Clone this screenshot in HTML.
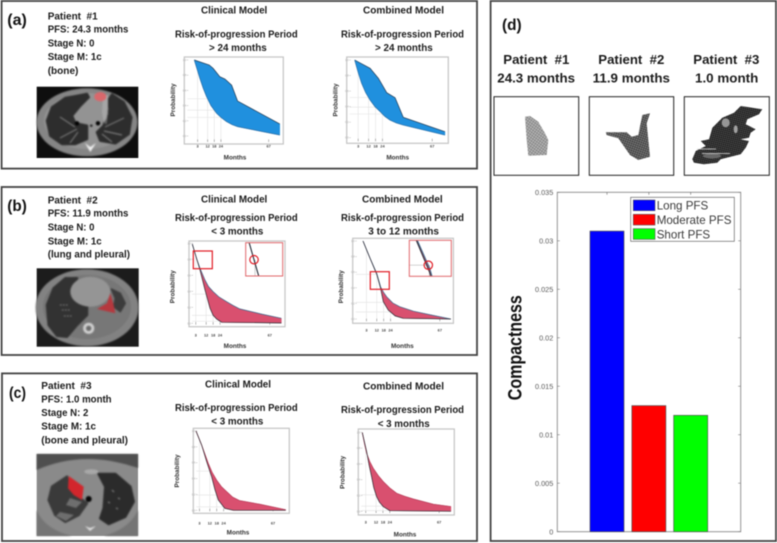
<!DOCTYPE html>
<html lang="en">
<head>
<meta charset="utf-8">
<title>Risk-of-progression and compactness figure</title>
<style>
html,body{margin:0;padding:0;background:#fff;width:777px;height:543px;overflow:hidden}
#figure{display:block;filter:blur(.4px)}
text{font-family:"Liberation Sans",sans-serif}
.t{font-weight:bold;font-size:10.4px;fill:#1c1c1c}
.h{font-weight:bold;font-size:13px;fill:#1c1c1c}
.p{font-weight:bold;font-size:16px;fill:#141414}
.ann{font-weight:bold;font-size:9.4px;fill:#1c1c1c}
.frame{fill:none;stroke:#444;stroke-width:1.8}
.ct{filter:blur(.9px)}
</style>
</head>
<body>
<svg id="figure" xmlns="http://www.w3.org/2000/svg" width="777" height="543" viewBox="0 0 777 543">
<defs>
<pattern id="mesh" width="2.4" height="2.4" patternUnits="userSpaceOnUse" patternTransform="rotate(35)">
<rect width="2.4" height="2.4" fill="#b4b4b4"/><path d="M0 0H2.4M0 0V2.4" stroke="#666" stroke-width=".7"/>
</pattern>
<pattern id="meshDark" width="2.2" height="2.2" patternUnits="userSpaceOnUse" patternTransform="rotate(20)">
<rect width="2.2" height="2.2" fill="#777"/><path d="M0 0H2.2M0 0V2.2" stroke="#282828" stroke-width=".8"/>
</pattern>
<pattern id="meshBlack" width="2" height="2" patternUnits="userSpaceOnUse" patternTransform="rotate(15)">
<rect width="2" height="2" fill="#4c4c4c"/><path d="M0 0H2M0 0V2" stroke="#101010" stroke-width=".9"/>
</pattern>
</defs>
<rect width="777" height="543" fill="#fff"/>

<!-- frames -->
<rect class="frame" x="1.6" y="1" width="475.4" height="167.6"/>
<rect class="frame" x="1.6" y="187" width="475.4" height="168"/>
<rect class="frame" x="2" y="373.4" width="475" height="167.6"/>
<rect class="frame" x="490.6" y="1" width="285.4" height="540"/>

<!-- panel a text -->
<text class="p" x="7.3" y="25" textLength="19.5" lengthAdjust="spacingAndGlyphs">(a)</text>
<text class="t" x="47.7" y="19.3" textLength="50" lengthAdjust="spacingAndGlyphs" xml:space="preserve">Patient  #1</text>
<text class="t" x="47.7" y="32.7" textLength="80.7" lengthAdjust="spacingAndGlyphs">PFS: 24.3 months</text>
<text class="t" x="47.7" y="46.7" textLength="46.7" lengthAdjust="spacingAndGlyphs">Stage N: 0</text>
<text class="t" x="47.7" y="60" textLength="54" lengthAdjust="spacingAndGlyphs">Stage M: 1c</text>
<text class="t" x="47.7" y="74" textLength="30.7" lengthAdjust="spacingAndGlyphs">(bone)</text>
<text class="t" x="201" y="13.3" textLength="66.3" lengthAdjust="spacingAndGlyphs">Clinical Model</text>
<text class="t" x="363" y="13.3" textLength="81" lengthAdjust="spacingAndGlyphs">Combined Model</text>
<text class="t" x="175" y="37.3" textLength="122.7" lengthAdjust="spacingAndGlyphs">Risk-of-progression Period</text>
<text class="t" x="209" y="51" textLength="57.7" lengthAdjust="spacingAndGlyphs">&gt; 24 months</text>
<text class="t" x="341" y="37.3" textLength="123" lengthAdjust="spacingAndGlyphs">Risk-of-progression Period</text>
<text class="t" x="375" y="51" textLength="57.7" lengthAdjust="spacingAndGlyphs">&gt; 24 months</text>

<!-- panel b text -->
<text class="p" x="7.3" y="211" textLength="19.5" lengthAdjust="spacingAndGlyphs">(b)</text>
<text class="t" x="47.7" y="203.3" textLength="50" lengthAdjust="spacingAndGlyphs" xml:space="preserve">Patient  #2</text>
<text class="t" x="47.7" y="216.7" textLength="80.7" lengthAdjust="spacingAndGlyphs">PFS: 11.9 months</text>
<text class="t" x="47.7" y="230.7" textLength="46.7" lengthAdjust="spacingAndGlyphs">Stage N: 0</text>
<text class="t" x="47.7" y="244.3" textLength="54" lengthAdjust="spacingAndGlyphs">Stage M: 1c</text>
<text class="t" x="47.7" y="257.7" textLength="82.3" lengthAdjust="spacingAndGlyphs">(lung and pleural)</text>
<text class="t" x="201" y="202.3" textLength="66.3" lengthAdjust="spacingAndGlyphs">Clinical Model</text>
<text class="t" x="362" y="202.3" textLength="80.7" lengthAdjust="spacingAndGlyphs">Combined Model</text>
<text class="t" x="175" y="221" textLength="122.7" lengthAdjust="spacingAndGlyphs">Risk-of-progression Period</text>
<text class="t" x="211.3" y="234.3" textLength="52" lengthAdjust="spacingAndGlyphs">&lt; 3 months</text>
<text class="t" x="341" y="221" textLength="123" lengthAdjust="spacingAndGlyphs">Risk-of-progression Period</text>
<text class="t" x="368.3" y="234.3" textLength="70.7" lengthAdjust="spacingAndGlyphs">3 to 12 months</text>

<!-- panel c text -->
<text class="p" x="9" y="398" textLength="17" lengthAdjust="spacingAndGlyphs">(c)</text>
<text class="t" x="41.3" y="389" textLength="50.3" lengthAdjust="spacingAndGlyphs" xml:space="preserve">Patient  #3</text>
<text class="t" x="41.3" y="402.3" textLength="70.3" lengthAdjust="spacingAndGlyphs">PFS: 1.0 month</text>
<text class="t" x="41.3" y="416" textLength="47" lengthAdjust="spacingAndGlyphs">Stage N: 2</text>
<text class="t" x="41.3" y="429.7" textLength="54.7" lengthAdjust="spacingAndGlyphs">Stage M: 1c</text>
<text class="t" x="41.3" y="443.3" textLength="86.7" lengthAdjust="spacingAndGlyphs">(bone and pleural)</text>
<text class="t" x="205" y="387.7" textLength="66" lengthAdjust="spacingAndGlyphs">Clinical Model</text>
<text class="t" x="363" y="389.3" textLength="81" lengthAdjust="spacingAndGlyphs">Combined Model</text>
<text class="t" x="175" y="411" textLength="122.7" lengthAdjust="spacingAndGlyphs">Risk-of-progression Period</text>
<text class="t" x="211.3" y="424.3" textLength="52" lengthAdjust="spacingAndGlyphs">&lt; 3 months</text>
<text class="t" x="341" y="413" textLength="123" lengthAdjust="spacingAndGlyphs">Risk-of-progression Period</text>
<text class="t" x="377.7" y="427" textLength="52" lengthAdjust="spacingAndGlyphs">&lt; 3 months</text>

<!-- CT scan a -->
<rect x="36.7" y="86.7" width="101.6" height="71.3" fill="#0e0e0e"/>
<g class="ct">
<ellipse cx="87" cy="122.3" rx="50.5" ry="34" fill="#858585"/>
<ellipse cx="87" cy="121" rx="43" ry="28" fill="#939393"/>
<path d="M87 94L65.3 98L52 107.3L47 120.7L50.3 135.7L62 144L75.3 144L87 139L87 125.7L75.3 123.3L72 115.7L80.3 105.7L88.7 97.3Z" fill="#2d2d2d" stroke="#2d2d2d" stroke-linejoin="round" stroke-width="2.5"/>
<path d="M107 102.3L112 94.7L123.7 102.3L131.3 117.3L128.7 134L115.3 143.3L100.3 140.7L97 132.3L103.7 125.7L106 114Z" fill="#2d2d2d" stroke="#2d2d2d" stroke-linejoin="round" stroke-width="2.5"/>
<path d="M103 95H108V114L104 124L102 112Z" fill="#a6a6a6"/>
<path d="M75 127L60 117M77 129L60 138M78 132L70 143M105 127L124 118M104 131L122 135M102 134L112 142M106 124L108 108" stroke="#8c8c8c" stroke-width=".9" fill="none"/>
<circle cx="77" cy="123.3" r="2.2" fill="#000"/><circle cx="98" cy="123.3" r="2.2" fill="#000"/><circle cx="91.3" cy="125.7" r="1.2" fill="#111"/>
<path d="M85 143L90.3 152L96 143L90.3 147Z" fill="#f0f0f0"/>
<ellipse cx="100.3" cy="96.7" rx="6" ry="4.7" fill="#d9686c"/>
</g>

<!-- CT scan b -->
<rect x="36.7" y="268.3" width="102" height="78.4" fill="#1c1c1c"/>
<g class="ct">
<ellipse cx="87" cy="307.7" rx="51.5" ry="38.5" fill="#828282"/>
<ellipse cx="87" cy="307" rx="44" ry="32" fill="#777"/>
<path d="M65.3 278.3L77 278.3L72 286.7L75.3 301.7L87 306.7L87 315L77 325L67 336.7L57 335.7L48.7 325L47 305L53.7 288.3Z" fill="#323232" stroke="#323232" stroke-linejoin="round" stroke-width="2.5"/>
<ellipse cx="90.3" cy="291.7" rx="20" ry="15" fill="#959595"/>
<path d="M111.3 289L120.3 293.3L125.3 303.3L120.3 311.7L113.7 306.7L115.3 298.3Z" fill="#3c3c3c" stroke="#3c3c3c" stroke-linejoin="round" stroke-width="1.5"/>
<path d="M110.3 293.3L113.7 305L115.3 313.3L97 309L107 303.3Z" fill="#b5383e"/>
<circle cx="88.7" cy="328.3" r="5.6" fill="#d0d0d0"/><circle cx="88.7" cy="328.3" r="2.7" fill="#6c6c6c"/>
<path d="M60 305h8M62 310h9M64 316h8" stroke="#8a8a8a" stroke-width="1" stroke-dasharray="1.5 1.5"/>
</g>

<!-- CT scan c -->
<rect x="36.7" y="454" width="101.3" height="82" fill="#8a8a8a"/>
<g class="ct">
<path d="M36.7 454H138V468C120 462 104 459 88 459C70 459 52 463 36.7 470Z" fill="#4f4f4f"/>
<path d="M36.7 510C42 524 56 532 72 536H36.7ZM138 510C132 524 118 532 104 536H138Z" fill="#757575"/>
<path d="M67 476.7L68.7 490L87 503.3L78.7 515L65.3 521.7L55.3 515L48.7 500L52 486.7Z" fill="#3a3a3a" stroke="#3a3a3a" stroke-linejoin="round" stroke-width="2.5"/>
<path d="M98.7 474L115.3 474L130.3 486.7L133.7 501.7L125.3 516.7L108.7 524L100.3 518.3L103.7 508.3L105.3 486.7Z" fill="#2b2b2b" stroke="#2b2b2b" stroke-linejoin="round" stroke-width="2.5"/>
<path d="M60 512L74 515L66 521L56 516ZM70 498L82 502L76 508L66 505Z" fill="#6e6e6e"/>
<path d="M68.7 476L83.7 486.7L82 500L73.7 495L68 488.3Z" fill="#d2262c"/>
<circle cx="88.7" cy="499" r="3" fill="#050505"/>
<ellipse cx="91.3" cy="471.7" rx="7" ry="2.5" fill="#a8a8a8"/>
<path d="M85 526L90 531L96 526L90 528Z" fill="#e0e0e0"/>
<path d="M112 490l2 2M118 498l2 1M108 502l2 1M116 508l2 1" stroke="#888" stroke-width="1.1"/>
</g>

<!-- annotations b -->
<text class="ann" x="236.7" y="289" textLength="41" lengthAdjust="spacingAndGlyphs">2.9 months</text>
<text class="ann" x="401" y="289" textLength="45.3" lengthAdjust="spacingAndGlyphs">11.7 months</text>

<!-- panel d top -->
<text class="p" x="502" y="30" textLength="19.7" lengthAdjust="spacingAndGlyphs">(d)</text>
<text class="h" x="503.3" y="64" textLength="66" lengthAdjust="spacingAndGlyphs" xml:space="preserve">Patient  #1</text>
<text class="h" x="497.3" y="82.3" textLength="77.7" lengthAdjust="spacingAndGlyphs">24.3 months</text>
<text class="h" x="598.3" y="64" textLength="66" lengthAdjust="spacingAndGlyphs" xml:space="preserve">Patient  #2</text>
<text class="h" x="592.7" y="82.3" textLength="77.3" lengthAdjust="spacingAndGlyphs">11.9 months</text>
<text class="h" x="693.3" y="64" textLength="66" lengthAdjust="spacingAndGlyphs" xml:space="preserve">Patient  #3</text>
<text class="h" x="695" y="82.3" textLength="63.3" lengthAdjust="spacingAndGlyphs">1.0 month</text>
<rect x="494" y="96.7" width="84.7" height="78.6" fill="#fff" stroke="#222" stroke-width="1"/>
<rect x="589.3" y="96.7" width="84.4" height="78.6" fill="#fff" stroke="#222" stroke-width="1"/>
<rect x="684.3" y="96.7" width="85" height="78.6" fill="#fff" stroke="#222" stroke-width="1"/>
<path d="M525 116.7L530 116L538.3 121.7L545 133.3L548.3 140L546.7 155L528.3 155.7L526.7 140Z" fill="url(#mesh)"/>
<path d="M605.7 132.3L626.7 132.3L631.7 136.7L638.3 135L642.3 115L650 113.3L646.7 123.3L650 156.7L638.3 160L630 155L618.3 138.3L606.7 135Z" fill="url(#meshDark)"/>
<g>
<path d="M692.3 159.3L695.7 151L705.7 146L700.7 141L709 139.3L712.3 127.7L722.3 117.7L734 112.7L740.7 106L762.3 109.3L759 114.3L747.3 119.3L745.7 124.3L755.7 129.3L750.7 132.7L749 137.7L740.7 139.3L749 141L745.7 147.7L740.7 154.3L720.7 159.3L717.3 162.7L704 164.3L694 162.7Z" fill="url(#meshBlack)"/>
<ellipse cx="725.7" cy="122.7" rx="4" ry="4.5" fill="#a8a8a8" opacity=".85"/>
<ellipse cx="735.7" cy="129.3" rx="2" ry="4" fill="#b5b5b5" opacity=".85"/>
<ellipse cx="712" cy="156" rx="9" ry="2.5" fill="#777" opacity=".8"/>
<path d="M697 149H716M702 153.5H730" stroke="#ddd" stroke-width=".8" fill="none"/>
</g>

<!-- compactness label -->
<text transform="translate(521.5,347.7) rotate(-90)" text-anchor="middle" font-weight="bold" font-size="19" fill="#111" textLength="105" lengthAdjust="spacingAndGlyphs">Compactness</text>

<g id="charts"></g>
<g id="bars"></g>
</svg>
<script>
/* ---------- survival chart data (months and probability) ---------- */
const xTickMonths = [3, 12, 18, 24, 67];
const yTickProbs = [0, 0.2, 0.4, 0.6, 0.8, 1];
const yTickLabels = ['0.0', '0.2', '0.4', '0.6', '0.8', '1.0'];
const guideMonths = [12, 18, 24];

const a1UpperMonths = [0, 13.5, 17, 23, 27.6, 33.6, 39, 77];
const a1UpperProb = [1, 0.934, 0.89, 0.78, 0.75, 0.67, 0.46, 0.158];
const a1LowerMonths = [0, 2.5, 5, 8, 11, 15, 20, 24, 29, 34, 39, 77];
const a1LowerProb = [1, 0.88, 0.76, 0.63, 0.52, 0.40, 0.30, 0.245, 0.19, 0.15, 0.123, 0.013];

const a2UpperMonths = [0, 13.3, 20.5, 27.7, 34.9, 42, 78];
const a2UpperProb = [1, 0.893, 0.764, 0.579, 0.515, 0.262, 0.077];
const a2LowerMonths = [0, 3, 6, 9.5, 13.3, 17.5, 22, 26, 30.5, 36, 42, 78];
const a2LowerProb = [1, 0.84, 0.70, 0.58, 0.485, 0.40, 0.335, 0.275, 0.227, 0.19, 0.163, 0.034];

const b1UpperMonths = [0, 3.7, 6.6, 11, 14, 18, 23, 29.7, 35, 41, 60, 77];
const b1UpperProb = [0.99, 0.81, 0.69, 0.54, 0.46, 0.396, 0.33, 0.27, 0.225, 0.18, 0.115, 0.0625];
const b1LowerMonths = [0, 3.7, 6.6, 11, 15.3, 18, 21, 25.4, 77];
const b1LowerProb = [0.99, 0.81, 0.67, 0.417, 0.19, 0.10, 0.054, 0.0125, 0.004];

const b2UpperMonths = [0, 6.1, 12, 15.4, 18, 20.6, 26, 32, 44, 60, 76.5];
const b2UpperProb = [1, 0.78, 0.585, 0.41, 0.34, 0.286, 0.205, 0.158, 0.1, 0.05, 0];
const b2LowerMonths = [0, 6.1, 12, 15.4, 17.7, 22, 28, 35, 76.5];
const b2LowerProb = [1, 0.78, 0.573, 0.39, 0.222, 0.115, 0.04, 0.009, 0];

const c1UpperMonths = [0, 4.9, 10.7, 14, 18, 22, 26.7, 32, 38, 55.6, 78];
const c1UpperProb = [1, 0.824, 0.592, 0.48, 0.38, 0.30, 0.235, 0.165, 0.122, 0.076, 0.008];
const c1LowerMonths = [0, 4.9, 9.3, 13.6, 16.5, 19.4, 25, 32.5, 78];
const c1LowerProb = [1, 0.824, 0.613, 0.424, 0.26, 0.13, 0.025, 0, 0];

const c2UpperMonths = [0, 2, 3.8, 6.5, 9.6, 14, 18.3, 24, 30, 37, 44.5, 62, 77.3];
const c2UpperProb = [0.996, 0.85, 0.734, 0.63, 0.544, 0.45, 0.376, 0.295, 0.228, 0.19, 0.156, 0.089, 0.06];
const c2LowerMonths = [0, 2, 3.8, 6, 8.1, 10, 12.5, 15, 18.3, 24, 77.3];
const c2LowerProb = [0.996, 0.87, 0.755, 0.58, 0.44, 0.30, 0.186, 0.115, 0.059, 0.008, 0];

/* ---------- bar chart data ---------- */
const barCategories = ['Long PFS', 'Moderate PFS', 'Short PFS'];
const barValues = [0.031, 0.013, 0.012];
const barTickValues = [0, 0.005, 0.01, 0.015, 0.02, 0.025, 0.03, 0.035];
const barTickLabels = ['0', '0.005', '0.01', '0.015', '0.02', '0.025', '0.03', '0.035'];
const barColors = ['#0000ff', '#ff0000', '#00ff00'];

const NS = 'http://www.w3.org/2000/svg';
function mk(parent, tag, attrs, txt) {
  const el = document.createElementNS(NS, tag);
  for (const k in attrs) el.setAttribute(k, attrs[k]);
  if (txt !== undefined) el.textContent = txt;
  parent.appendChild(el);
  return el;
}
function interp(ms, ps, m) {
  if (m <= ms[0]) return ps[0];
  for (let i = 1; i < ms.length; i++) {
    if (m <= ms[i]) return ps[i - 1] + (ps[i] - ps[i - 1]) * (m - ms[i - 1]) / (ms[i] - ms[i - 1]);
  }
  return ps[ps.length - 1];
}
function curvePoints(ms, ps, sx, sy) {
  return ms.map((m, i) => sx(m).toFixed(2) + ',' + sy(ps[i]).toFixed(2));
}
function drawBand(g, c, sx, sy, id, lw) {
  const up = curvePoints(c.upM, c.upP, sx, sy);
  const lo = curvePoints(c.loM, c.loP, sx, sy);
  const band = mk(g, 'polygon', { points: up.concat(lo.slice().reverse()).join(' '), fill: c.fill, stroke: c.fill, 'stroke-width': 0.4 });
  
  
  const upper = mk(g, 'polyline', { points: up.join(' '), fill: 'none', stroke: c.upStroke, 'stroke-width': lw });
  
  
  const lower = mk(g, 'polyline', { points: lo.join(' '), fill: 'none', stroke: c.loStroke, 'stroke-width': lw });
  
  
}
function drawSurvival(c) {
  const root = document.getElementById('charts');
  const g = mk(root, 'g', {});
  
  
  const sx = m => c.x0 + m * c.kx;
  const sy = p => c.y0 - p * c.ky;
  const box = mk(g, 'rect', { x: c.fx, y: c.fy, width: c.fw, height: c.fh, fill: '#fff', stroke: '#c4c4c4', 'stroke-width': 1.2 });
  
  
  const axisY = c.fy + c.fh - 2.6;
  const axisX = c.fx + 3;
  xTickMonths.forEach((m, i) => {
    if (i < 4) {
      const v = mk(g, 'line', { x1: sx(m), x2: sx(m), y1: axisY, y2: sy(interp(c.loM, c.loP, m)), stroke: '#e2e2e2', 'stroke-width': 0.6 });
      
      
    }
    const t = mk(g, 'line', { x1: sx(m), x2: sx(m), y1: axisY - 2, y2: axisY + 0.6, stroke: '#777', 'stroke-width': 0.5 });
    
    
    const l = mk(g, 'text', { x: sx(m), y: c.tickY, 'text-anchor': 'middle', 'font-size': 3.9, 'font-weight': 'bold', fill: '#444' }, String(m));
    
    
  });
  guideMonths.forEach(m => {
    const y = sy(interp(c.loM, c.loP, m));
    const h = mk(g, 'line', { x1: axisX, x2: sx(m), y1: y, y2: y, stroke: '#e2e2e2', 'stroke-width': 0.6 });
    
    
  });
  yTickProbs.forEach((p, i) => {
    const t = mk(g, 'line', { x1: axisX - 0.4, x2: axisX + 1, y1: sy(p), y2: sy(p), stroke: '#aaa', 'stroke-width': 0.5 });
    
    
    const l = mk(g, 'text', { x: axisX - 1, y: sy(p) + 1, 'text-anchor': 'end', 'font-size': 2.6, fill: '#aaa' }, yTickLabels[i]);
    
    
  });
  drawBand(g, c, sx, sy, c.id, 0.7);
  const mo = mk(g, 'text', { x: c.monthsX, y: c.monthsY, 'text-anchor': 'middle', 'font-size': 6.4, 'font-weight': 'bold', fill: '#333' }, 'Months');
  
  
  const pr = mk(g, 'text', { transform: 'translate(' + c.probX + ',' + c.probY + ') rotate(-90)', 'text-anchor': 'middle', 'font-size': 6.4, 'font-weight': 'bold', fill: '#333' }, 'Probability');
  
  
  if (c.inset) drawInset(g, c, c.inset);
}
function drawInset(g, c, n) {
  const sq = mk(g, 'rect', { x: n.sx, y: n.sy, width: n.sw, height: n.sh, fill: 'none', stroke: '#e01b24', 'stroke-width': 1.2 });
  
  
  const clip = mk(g, 'clipPath', { id: c.id + '-clip' });
  mk(clip, 'rect', { x: n.x, y: n.y, width: n.w, height: n.h });
  const bg = mk(g, 'rect', { x: n.x, y: n.y, width: n.w, height: n.h, fill: '#fff' });
  
  
  const ig = mk(g, 'g', { 'clip-path': 'url(#' + c.id + '-clip)' });
  
  
  const sx = m => n.x + (m - n.m0) / (n.m1 - n.m0) * n.w;
  const sy = p => n.y + (n.p1 - p) / (n.p1 - n.p0) * n.h;
  const pm = interp(c.upM, c.upP, n.month);
  const vg = mk(ig, 'line', { x1: sx(n.month) + 1, x2: sx(n.month) + 1, y1: sy(pm), y2: n.y + n.h, stroke: '#bbb', 'stroke-width': 0.7 });
  
  
  const hg = mk(ig, 'line', { x1: n.x, x2: sx(n.month), y1: sy(pm), y2: sy(pm), stroke: n.hColor, 'stroke-width': 0.7 });
  
  
  drawBand(ig, c, sx, sy, c.id + '-inset', 1);
  const ring = mk(g, 'circle', { cx: sx(n.month), cy: sy(pm), r: 4.2, fill: 'none', stroke: '#e01b24', 'stroke-width': 1.2 });
  
  
  const fr = mk(g, 'rect', { x: n.x, y: n.y, width: n.w, height: n.h, fill: 'none', stroke: '#e0666a', 'stroke-width': 1 });
  
  
}

const BLUE = '#2090de', RED = '#d9506f';
[
  { id: 'a-clinical', fx: 184.3, fy: 57, fw: 99, fh: 87, x0: 194.3, kx: 1.11, y0: 136, ky: 76, tickY: 147.7, monthsX: 235, monthsY: 159.5, probX: 175, probY: 100,
    upM: a1UpperMonths, upP: a1UpperProb, loM: a1LowerMonths, loP: a1LowerProb, fill: BLUE, upStroke: '#2b3f55', loStroke: '#2a6fa8' },
  { id: 'a-combined', fx: 346.7, fy: 57, fw: 101.6, fh: 86.3, x0: 354.7, kx: 1.157, y0: 137.7, ky: 77.7, tickY: 147.7, monthsX: 397.7, monthsY: 159.5, probX: 337.5, probY: 100,
    upM: a2UpperMonths, upP: a2UpperProb, loM: a2LowerMonths, loP: a2LowerProb, fill: BLUE, upStroke: '#2b3f55', loStroke: '#2a6fa8' },
  { id: 'b-clinical', fx: 189, fy: 241, fw: 96, fh: 85.7, x0: 192.3, kx: 1.157, y0: 323.3, ky: 80, tickY: 336.7, monthsX: 235, monthsY: 348, probX: 174.5, probY: 286.7,
    upM: b1UpperMonths, upP: b1UpperProb, loM: b1LowerMonths, loP: b1LowerProb, fill: RED, upStroke: '#3a6b8e', loStroke: '#2c2c34',
    inset: { sx: 193.3, sy: 251, sw: 19, sh: 17.7, x: 245.7, y: 242.7, w: 37, h: 33.3, m0: 1.1, m1: 9.1, p0: 0.80, p1: 0.90, month: 2.9, hColor: 'none' } },
  { id: 'b-combined', fx: 352.7, fy: 238.3, fw: 100.7, fh: 85, x0: 363, kx: 1.147, y0: 319, ky: 78, tickY: 331.7, monthsX: 402.3, monthsY: 348, probX: 343, probY: 286.7,
    upM: b2UpperMonths, upP: b2UpperProb, loM: b2LowerMonths, loP: b2LowerProb, fill: RED, upStroke: '#3a6b8e', loStroke: '#2c2c34',
    inset: { sx: 370.3, sy: 271.7, sw: 19, sh: 17.6, x: 409.3, y: 240.3, w: 42, h: 36, m0: 8.08, m1: 16.08, p0: 0.564, p1: 0.664, month: 11.7, hColor: '#bbb' } },
  { id: 'c-clinical', fx: 193.3, fy: 428.3, fw: 96, fh: 85, x0: 196, kx: 1.15, y0: 510.3, ky: 79.3, tickY: 524.3, monthsX: 238, monthsY: 534.3, probX: 179, probY: 471,
    upM: c1UpperMonths, upP: c1UpperProb, loM: c1LowerMonths, loP: c1LowerProb, fill: RED, upStroke: '#b8405c', loStroke: '#2c2c34' },
  { id: 'c-combined', fx: 358.3, fy: 429, fw: 96, fh: 86, x0: 362.3, kx: 1.147, y0: 511.3, ky: 79, tickY: 523.3, monthsX: 405, monthsY: 536.3, probX: 344.5, probY: 472.3,
    upM: c2UpperMonths, upP: c2UpperProb, loM: c2LowerMonths, loP: c2LowerProb, fill: RED, upStroke: '#b8405c', loStroke: '#2c2c34' }
].forEach(drawSurvival);

/* ---------- compactness bar chart ---------- */
(function () {
  const g = document.getElementById('bars');
  const left = 557.3, right = 740.7, top = 192.3, bottom = 531.7;
  const yMax = 0.035;
  const y = v => bottom - (v / yMax) * (bottom - top);
  const firstCenter = 607, step = 41.85, barW = 34;
  const x = i => firstCenter + i * step;

  const frame = mk(g, 'rect', { x: left, y: top, width: right - left, height: bottom - top, fill: '#fff', stroke: '#8a8a8a', 'stroke-width': 0.9 });
  
  

  barValues.forEach((v, i) => {
    const b = mk(g, 'rect', { x: x(i) - barW / 2, y: y(v), width: barW, height: bottom - y(v), fill: barColors[i], stroke: '#555', 'stroke-width': 0.7 });
    
    
    const t1 = mk(g, 'line', { x1: x(i), x2: x(i), y1: top, y2: top + 2.5, stroke: '#666', 'stroke-width': 0.6 });
    
    
  });
  barTickValues.forEach((v, i) => {
    const t = mk(g, 'line', { x1: left, x2: left + 2.5, y1: y(v), y2: y(v), stroke: '#777', 'stroke-width': 0.6 });
    
    
    const r = mk(g, 'line', { x1: right - 2.5, x2: right, y1: y(v), y2: y(v), stroke: '#777', 'stroke-width': 0.6 });
    
    
    const l = mk(g, 'text', { x: 553.3, y: y(v) + 2.6, 'text-anchor': 'end', 'font-size': 7.3, fill: '#5a5a5a' }, barTickLabels[i]);
    
    
  });

  const legend = mk(g, 'rect', { x: 630.7, y: 197.3, width: 103.6, height: 44, fill: '#fff', stroke: '#666', 'stroke-width': 0.7 });
  
  
  barCategories.forEach((name, i) => {
    const sw = mk(g, 'rect', { x: 633.3, y: 200 + i * 14.33, width: 21.7, height: 10.7, fill: barColors[i], stroke: '#555', 'stroke-width': 0.6 });
    
    
    const tx = mk(g, 'text', { x: 656.7, y: 209.6 + i * 14.33, 'font-size': 11.6, fill: '#3a3a3a' }, name);
    
    
  });
})();
</script>
</body>
</html>
